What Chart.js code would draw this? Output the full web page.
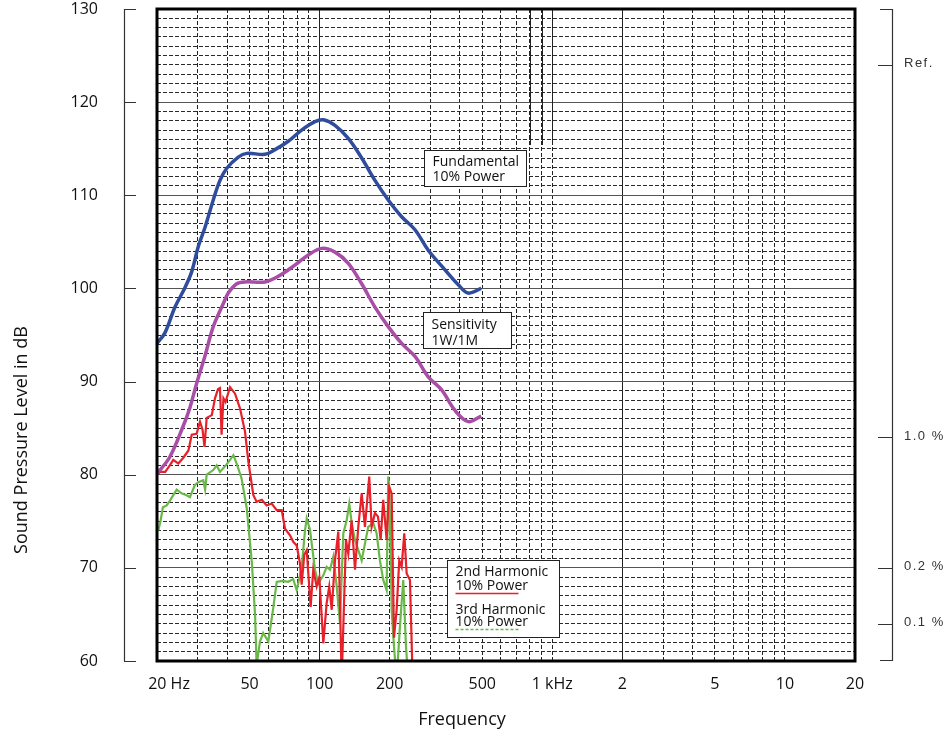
<!DOCTYPE html>
<html>
<head>
<meta charset="utf-8">
<script src="https://cdn.jsdelivr.net/npm/chart.js@4.4.1/dist/chart.umd.min.js"></script>
<style>
  body { margin: 0; background: #fff; }
</style>
</head>
<body>
<canvas id="spl-chart" width="949" height="738"></canvas>
<script>
// --- axes ---
const xGridFreqs = [20, 30, 40, 50, 60, 70, 80, 90, 100, 200, 300, 400, 500, 600, 700, 800, 900, 1000,
                    2000, 3000, 4000, 5000, 6000, 7000, 8000, 9000, 10000, 20000];
const xSolidFreqs = [100, 2000];
const xLabelFreqs = [20, 50, 100, 200, 500, 1000, 2000, 5000, 10000, 20000];
const xLabelTexts = ["\u2002\u2002\u200220 Hz", "50", "100", "200", "500", "1 kHz", "2", "5", "10", "20"];
const yMin = 60, yMax = 130;
const refLevels = [124, 84, 70, 64];
const refLabels = ["Ref.", "1.0 %", "0.2 %", "0.1 %"];

// --- curves (Hz / dB) ---
const fundFreq = [20, 21.6, 23.9, 26.4, 28.2, 30.1, 32.2, 34.9, 37.3, 39.9, 44.7, 48.6, 58.2, 64.3, 73.3, 83.7,
                  95.5, 103.7, 116.4, 132.8, 151.6, 172.9, 197.2, 225.2, 257, 293, 345.8, 394.4, 435.4, 495];
const fundDb = [94.1, 95.2, 98.0, 100.1, 101.8, 104.5, 106.6, 109.5, 111.6, 112.9, 114.1, 114.5, 114.4, 114.9, 115.8, 117.0,
                117.9, 118.1, 117.5, 116.1, 114.0, 111.6, 109.5, 107.7, 106.3, 104.1, 102.0, 100.4, 99.5, 100.0];

const sensFreq = [20, 22.7, 25.9, 27.7, 29.6, 32.2, 34.9, 38.6, 40.5, 44.0, 47.8, 58.2, 66.4, 78.3, 89.4, 102.1,
                  116.4, 132.8, 151.6, 172.9, 197.2, 225.2, 257, 293, 334.6, 381.8, 435.4, 495];
const sensDb = [80.1, 81.9, 85.2, 87.2, 89.8, 92.8, 95.9, 98.4, 99.5, 100.5, 100.7, 100.7, 101.3, 102.5, 103.6, 104.3,
                103.9, 102.7, 100.5, 98.0, 95.9, 94.1, 92.7, 90.5, 89.1, 86.9, 85.7, 86.3];

const h2Freq = [20, 20.6, 21.7, 22.7, 23.5, 24.7, 25.9, 27.3, 28.2, 29.6, 30.6, 31.4, 32.0, 32.7, 34.4, 35.5,
                36.6, 37.3, 37.9, 38.6, 39.4, 41.2, 43.3, 45.5, 47.8, 49.4, 51.9, 53.6, 56.4, 59.2, 62.2, 65.4,
                68.7, 71.0, 74.6, 77.0, 79.7, 82.3, 83.7, 85.9, 88.0, 91.5, 93.9, 97.1, 99.7, 103.7, 107.2, 110.0,
                112.7, 116.4, 120.3, 124.4, 129.8, 132.8, 137.3, 141.9, 146.6, 151.6, 156.6, 163.4, 167.3, 172.9,
                178.2, 182.9, 187.7, 194.1, 199.2, 204.0, 208.7, 214.3, 219.9, 225.2, 231.1, 236.6, 244.5, 251.1];
const h2Db = [80.0, 80.3, 80.3, 81.0, 81.6, 81.2, 81.8, 82.6, 84.3, 84.4, 85.7, 84.8, 83.0, 86.1, 86.4, 88.2,
              89.2, 89.3, 84.3, 88.2, 87.8, 89.4, 88.7, 87.1, 84.6, 81.4, 77.8, 77.1, 77.3, 76.7, 76.9, 76.2,
              76.2, 74.2, 73.5, 72.8, 72.4, 70.5, 68.2, 71.4, 71.9, 65.8, 69.8, 68.0, 69.0, 61.9, 66.2, 68.0,
              65.5, 70.8, 73.9, 58, 73.0, 71.5, 75.1, 69.8, 74.4, 78.0, 74.4, 79.8, 74.4, 75.9,
              75.5, 73.0, 77.3, 73.0, 78.7, 78.0, 62.5, 65.5, 70.8, 70.1, 73.7, 69.4, 68.7, 58];

const h3Freq = [20, 20.3, 20.7, 21.2, 22.0, 22.7, 23.5, 24.3, 25.5, 26.8, 27.7, 29.1, 30.1, 31.6, 32.2, 32.7,
                34.9, 36.1, 37.3, 39.2, 41.2, 42.6, 44.0, 46.2, 48.6, 51.1, 52.8, 53.6, 55.4, 57.2, 60.2, 63.2,
                65.4, 68.9, 73.3, 77.0, 79.7, 83.7, 86.5, 88.0, 90.9, 95.5, 98.7, 103.7, 107.2, 110.8, 114.5, 118.4,
                122.3, 126.4, 130.7, 134.1, 137.7, 141.9, 146.6, 151.6, 156.6, 161.8, 170.0, 175.8, 181.6, 187.7,
                194.1, 197.2, 199.5, 204.0, 208.7, 214.3, 221.4, 228.8, 235.0, 240.4];
const h3Db = [74.0, 74.1, 75.0, 76.5, 76.7, 77.2, 77.8, 78.4, 78.0, 77.8, 77.6, 78.9, 79.2, 79.4, 78.4, 80.0,
              80.5, 81.0, 80.3, 80.9, 81.6, 82.1, 81.2, 79.6, 76.4, 70.7, 64.9, 59.5, 62.1, 63.0, 62.1, 65.7,
              68.5, 68.6, 68.5, 68.8, 67.6, 70.0, 74.0, 75.3, 74.1, 69.8, 68.3, 69.2, 70.1, 69.8, 71.2, 68.0,
              64.1, 73.7, 75.1, 76.9, 74.6, 73.0, 71.9, 70.8, 72.6, 74.4, 74.8, 73.7, 70.8, 68.7,
              67.6, 79.8, 78.5, 65.5, 61.6, 58, 63.7, 68.7, 61.6, 58];

function pts(freqs, vals) {
  return freqs.map((f, i) => ({ x: f, y: vals[i] }));
}

// boxed notes, placed in data units (top-left corner)
const noteBoxes = [
  { freq: 281, db: 114.9, w: 102, h: 36, lines: ["Fundamental", "10% Power"], base: [15, 30] },
  { freq: 278, db: 97.5, w: 88, h: 36, lines: ["Sensitivity", "1W/1M"], base: [16, 32] },
  { freq: 352, db: 70.8, w: 112, h: 77, lines: ["2nd Harmonic", "10% Power", "3rd Harmonic", "10% Power"],
    base: [15, 29, 53, 65], keys: [{ dy: 33, color: "#e8202a", dash: [] }, { dy: 69, color: "#6ab84a", dash: [3, 2] }] }
];

const decorPlugin = {
  id: "decor",
  beforeDatasetsDraw(chart) {
    // the three solid strokes near 1 kHz in the upper part of the grid
    const ctx = chart.ctx, xs = chart.scales.x, ys = chart.scales.y;
    ctx.save();
    ctx.strokeStyle = "#222";
    ctx.lineWidth = 1;
    [800, 900, 1000].forEach(f => {
      const px = Math.round(xs.getPixelForValue(f)) + 0.5;
      ctx.beginPath();
      ctx.moveTo(px, ys.getPixelForValue(yMax));
      ctx.lineTo(px, ys.getPixelForValue(115.4));
      ctx.stroke();
    });
    ctx.restore();
  },
  afterDatasetsDraw(chart) {
    const ctx = chart.ctx, xs = chart.scales.x, ys = chart.scales.y, a = chart.chartArea;
    ctx.save();

    // frame
    ctx.strokeStyle = "#000";
    ctx.lineWidth = 3;
    ctx.strokeRect(a.left, a.top, a.right - a.left, a.bottom - a.top);

    // left bracket
    const top = ys.getPixelForValue(yMax), bot = ys.getPixelForValue(yMin);
    ctx.strokeStyle = "#333";
    ctx.lineWidth = 1.2;
    ctx.beginPath();
    ctx.moveTo(124.5, top); ctx.lineTo(124.5, bot);
    for (let v = yMin; v <= yMax; v += 10) {
      const py = Math.round(ys.getPixelForValue(v)) + 0.5;
      ctx.moveTo(124, py); ctx.lineTo(136, py);
    }
    ctx.stroke();

    // right bracket with reference levels
    ctx.beginPath();
    ctx.moveTo(892.5, top); ctx.lineTo(892.5, bot);
    ctx.moveTo(880, top + 0.5); ctx.lineTo(893, top + 0.5);
    ctx.moveTo(880, bot - 0.5); ctx.lineTo(893, bot - 0.5);
    refLevels.forEach(v => {
      const py = Math.round(ys.getPixelForValue(v)) + 0.5;
      ctx.moveTo(878, py); ctx.lineTo(893, py);
    });
    ctx.stroke();
    ctx.fillStyle = "#333";
    ctx.font = "13px 'Liberation Sans', Arial, sans-serif";
    ctx.letterSpacing = "1.5px";
    ctx.textAlign = "left";
    ctx.textBaseline = "middle";
    refLevels.forEach((v, i) => ctx.fillText(refLabels[i], 904, ys.getPixelForValue(v) - 1));
    ctx.letterSpacing = "0px";

    // notes
    ctx.font = "14px 'Open Sans', sans-serif";
    ctx.textBaseline = "alphabetic";
    noteBoxes.forEach(b => {
      const bx = Math.round(xs.getPixelForValue(b.freq)) + 0.5;
      const by = Math.round(ys.getPixelForValue(b.db)) + 0.5;
      ctx.fillStyle = "#fff";
      ctx.fillRect(bx, by, b.w, b.h);
      ctx.strokeStyle = "#222";
      ctx.lineWidth = 1;
      ctx.setLineDash([]);
      ctx.strokeRect(bx, by, b.w, b.h);
      ctx.fillStyle = "#111";
      b.lines.forEach((t, i) => ctx.fillText(t, bx + 8, by + b.base[i]));
      (b.keys || []).forEach(k => {
        ctx.strokeStyle = k.color;
        ctx.lineWidth = 1.5;
        ctx.setLineDash(k.dash);
        ctx.beginPath();
        ctx.moveTo(bx + 8, by + k.dy); ctx.lineTo(bx + 71, by + k.dy);
        ctx.stroke();
      });
      ctx.setLineDash([]);
    });

    // axis titles
    ctx.fillStyle = "#111";
    ctx.font = "18px 'Open Sans', sans-serif";
    ctx.textAlign = "center";
    ctx.textBaseline = "middle";
    ctx.fillText("Frequency", 462, 720);
    ctx.translate(22, 440);
    ctx.rotate(-Math.PI / 2);
    ctx.fillText("Sound Pressure Level in dB", 0, 0);
    ctx.restore();
  }
};

Chart.defaults.font.family = "'Open Sans', sans-serif";
Chart.defaults.color = "#111";

new Chart(document.getElementById("spl-chart"), {
  type: "line",
  data: {
    datasets: [
      { label: "Fundamental 10% Power", data: pts(fundFreq, fundDb), borderColor: "#2f4d9c", borderWidth: 3.5, tension: 0.35 },
      { label: "Sensitivity 1W/1M", data: pts(sensFreq, sensDb), borderColor: "#a84ea6", borderWidth: 3.5, tension: 0.35 },
      { label: "2nd Harmonic 10% Power", data: pts(h2Freq, h2Db), borderColor: "#e8202a", borderWidth: 2.2, tension: 0 },
      { label: "3rd Harmonic 10% Power", data: pts(h3Freq, h3Db), borderColor: "#6ab84a", borderWidth: 2.2, tension: 0 }
    ]
  },
  options: {
    responsive: false,
    animation: false,
    layout: { padding: { top: 9, right: 94, left: 0, bottom: 0 } },
    elements: { point: { radius: 0 } },
    plugins: { legend: { display: false }, tooltip: { enabled: false } },
    scales: {
      x: {
        type: "logarithmic",
        min: 20,
        max: 20000,
        afterBuildTicks: s => { s.ticks = xGridFreqs.map(v => ({ value: v })); },
        afterFit: s => { s.height = 77; s.paddingLeft = 0; s.paddingRight = 0; },
        grid: {
          drawTicks: false,
          lineWidth: 1,
          color: c => (c.tick && xSolidFreqs.includes(c.tick.value)) ? "#222" : "#222"
        },
        border: {
          display: false,
          dash: c => (c.tick && xSolidFreqs.includes(c.tick.value)) ? [] : [4, 2]
        },
        ticks: {
          autoSkip: false,
          maxRotation: 0,
          padding: 14,
          font: { size: 16 },
          callback: v => {
            const i = xLabelFreqs.indexOf(v);
            return i >= 0 ? xLabelTexts[i] : "";
          }
        }
      },
      y: {
        min: yMin,
        max: yMax,
        afterBuildTicks: s => {
          const t = [];
          for (let v = yMin; v <= yMax; v++) t.push({ value: v });
          s.ticks = t;
        },
        afterFit: s => { s.width = 157; s.paddingTop = 0; s.paddingBottom = 0; },
        grid: {
          drawTicks: false,
          lineWidth: 1,
          color: c => (c.tick && c.tick.value % 10 === 0) ? "#555" : "#2a2a2a"
        },
        border: {
          display: false,
          dash: c => (c.tick && c.tick.value % 10 === 0) ? [] : [4, 2]
        },
        ticks: {
          autoSkip: false,
          padding: 59,
          font: { size: 16 },
          callback: v => (v % 10 === 0 ? String(v) : "")
        }
      }
    }
  },
  plugins: [decorPlugin]
});
</script>
</body>
</html>
